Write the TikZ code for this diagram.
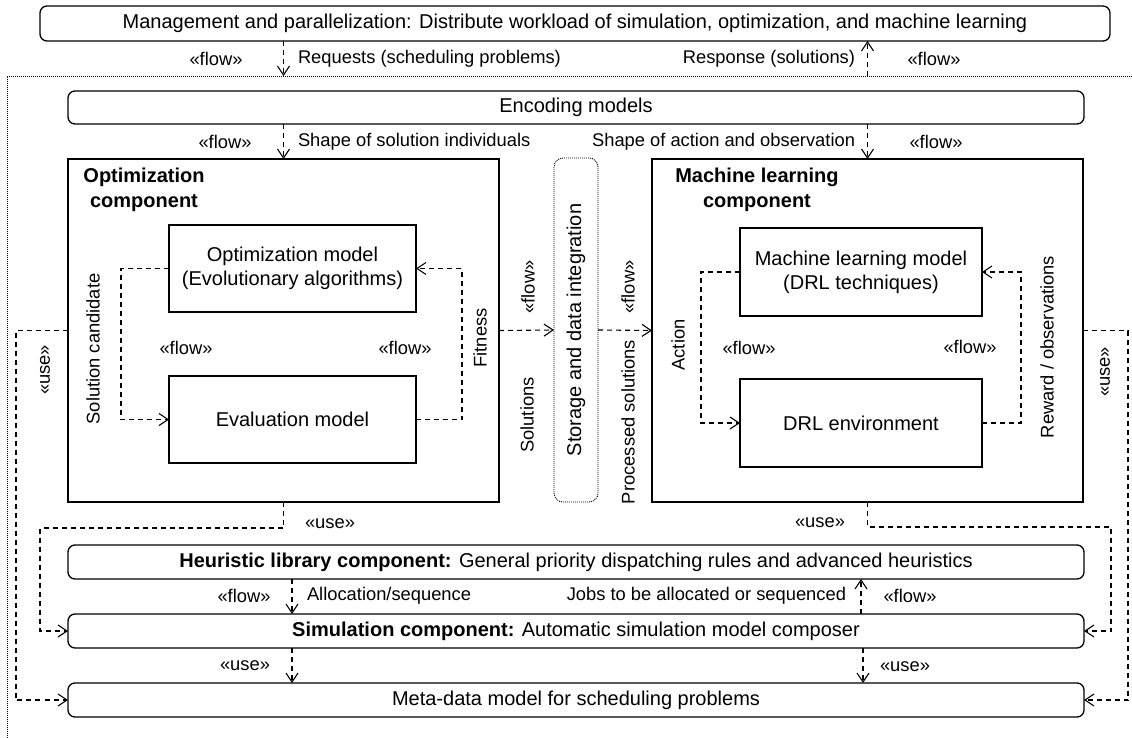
\documentclass[tikz,border=0pt]{standalone}
\usepackage{fontspec}
\setmainfont{Liberation Sans}
\usepackage{graphicx}
\usetikzlibrary{arrows.meta,calc}
\begin{document}
\begin{tikzpicture}[x=1pt,y=-1pt,
  box/.style={draw, line width=1.3pt, inner sep=0pt, outer sep=0pt, font=\fontsize{20}{24}\selectfont, align=center},
  rbox/.style={box, rounded corners=7pt},
  lbl/.style={inner sep=0pt, outer sep=0pt, font=\fontsize{18.33}{22}\selectfont},
  ttl/.style={inner sep=0pt, align=center, font=\fontsize{20}{25}\selectfont\bfseries},
  dep/.style={draw, line width=1.1pt, dash pattern=on 5pt off 4pt, -{Straight Barb[length=9pt,width=12pt,line width=1.1pt]}},
  frame/.style={draw, line width=0.8pt, dash pattern=on 1pt off 1pt}
]
\useasboundingbox (0,0) rectangle (1132,738);
\fill[white] (0,0) rectangle (1132,738);

% outer dotted frame
\draw[frame] (1132,76) -- (7,76) -- (7,738);

% boxes
\node[rbox, minimum width=1070pt, minimum height=35pt] (mgmt) at (575,23.5) {Management and parallelization: Distribute workload of simulation, optimization, and machine learning};
\node[rbox, minimum width=1016pt, minimum height=33pt] (enc) at (576,107.5) {Encoding models};
\node[box, minimum width=431pt, minimum height=343pt] (opt) at (283.5,330.5) {};
\node[box, minimum width=247pt, minimum height=87pt] (optm) at (292.5,268.5) {Optimization model\\(Evolutionary algorithms)};
\node[box, minimum width=247pt, minimum height=87pt] (evalm) at (292.5,419.5) {Evaluation model};
\node[box, rounded corners=9pt, line width=0.9pt, dash pattern=on 1pt off 1pt, minimum width=44pt, minimum height=344pt] (stor) at (576,330) {\rotatebox{90}{Storage and data integration}};
\node[box, minimum width=431pt, minimum height=343pt] (ml) at (867.5,330.5) {};
\node[box, minimum width=242pt, minimum height=88pt] (mlm) at (861,272) {Machine learning model\\(DRL techniques)};
\node[box, minimum width=242pt, minimum height=88pt] (drl) at (861,423) {DRL environment};
\node[rbox, minimum width=1016pt, minimum height=34pt] (heur) at (576,562) {{\bfseries Heuristic library component:} General priority dispatching rules and advanced heuristics};
\node[rbox, minimum width=1016pt, minimum height=34pt] (sim) at (576,631) {{\bfseries Simulation component:} Automatic simulation model composer};
\node[rbox, minimum width=1016pt, minimum height=34pt] (meta) at (576,700) {Meta-data model for scheduling problems};

% titles
\node[ttl] (optt) at (144,189.5) {Optimization\\component};
\node[ttl] (mlt) at (757,189.5) {Machine learning\\component};

% top connectors
\coordinate (ftl) at (283.5,76);
\coordinate (ftr) at (867.5,76);
\draw[dep] (mgmt.south -| ftl) -- (ftl);
\draw[dep] (ftr) -- (mgmt.south -| ftr);
\draw[dep] (enc.south -| opt.north) -- (opt.north);
\draw[dep] (enc.south -| ml.north) -- (ml.north);

\node[lbl] (l1) at (216,59) {«flow»};
\node[lbl, anchor=west] (l2) at (298,59) {Requests (scheduling problems)};
\node[lbl, anchor=east] (l3) at (855,59) {Response (solutions)};
\node[lbl] (l4) at (934,59) {«flow»};
\node[lbl] (l5) at (225,142) {«flow»};
\node[lbl, anchor=west] (l6) at (298,142) {Shape of solution individuals};
\node[lbl, anchor=east] (l7) at (855,142) {Shape of action and observation};
\node[lbl] (l8) at (936,142) {«flow»};

% inner loops
\draw[dep] (optm.west) -- ++(-48,0) |- (evalm.west);
\draw[dep] (evalm.east) -- ++(46,0) |- (optm.east);
\draw[dep] (mlm.west) -- ++(-39,0) |- (drl.west);
\draw[dep] (drl.east) -- ++(39,0) |- (mlm.east);
\node[lbl, rotate=90] (l9) at (93,349) {Solution candidate};
\node[lbl] (l10) at (186,348) {«flow»};
\node[lbl] (l11) at (405,348) {«flow»};
\node[lbl, rotate=90] (l12) at (480,338) {Fitness};
\node[lbl, rotate=90] (l13) at (678,345) {Action};
\node[lbl] (l14) at (749,348) {«flow»};
\node[lbl] (l15) at (970,347) {«flow»};
\node[lbl, rotate=90] (l16) at (1047,347) {Reward / observations};

% storage connectors
\draw[dep] (opt.east) -- (stor.west);
\draw[dep] (stor.east) -- (ml.west);
\node[lbl, rotate=90] (l17) at (528,287) {«flow»};
\node[lbl, rotate=90] (l18) at (527,415) {Solutions};
\node[lbl, rotate=90] (l19) at (628,287) {«flow»};
\node[lbl, rotate=90] (l20) at (628,422) {Processed solutions};

% side use links
\draw[dep] (opt.west) -- ++(-52,0) |- (meta.west);
\draw[dep] (ml.east) -- ++(45,0) |- (meta.east);
\node[lbl, rotate=90] (l21) at (45,370) {«use»};
\node[lbl, rotate=90] (l22) at (1105,372) {«use»};

% bottom use links
\draw[dep] (opt.south) -- ++(0,26) -| ([xshift=-28pt]sim.west) -- (sim.west);
\draw[dep] (ml.south) -- ++(0,25) -| ([xshift=27pt]sim.east) -- (sim.east);
\node[lbl] (l23) at (330,524) {«use»};
\node[lbl] (l24) at (820,523) {«use»};

% heuristic / simulation / meta-data
\draw[dep] ([xshift=-284pt]heur.south) -- ([xshift=-284pt]sim.north);
\draw[dep] ([xshift=285pt]sim.north) -- ([xshift=285pt]heur.south);
\draw[dep] ([xshift=-284pt]sim.south) -- ([xshift=-284pt]meta.north);
\draw[dep] ([xshift=287pt]sim.south) -- ([xshift=287pt]meta.north);
\node[lbl] (l25) at (244,596) {«flow»};
\node[lbl, anchor=west] (l26) at (307,596) {Allocation/sequence};
\node[lbl, anchor=east] (l27) at (846,596) {Jobs to be allocated or sequenced};
\node[lbl] (l28) at (910,596) {«flow»};
\node[lbl] (l29) at (245,666) {«use»};
\node[lbl] (l30) at (905,667) {«use»};
\end{tikzpicture}
\end{document}
